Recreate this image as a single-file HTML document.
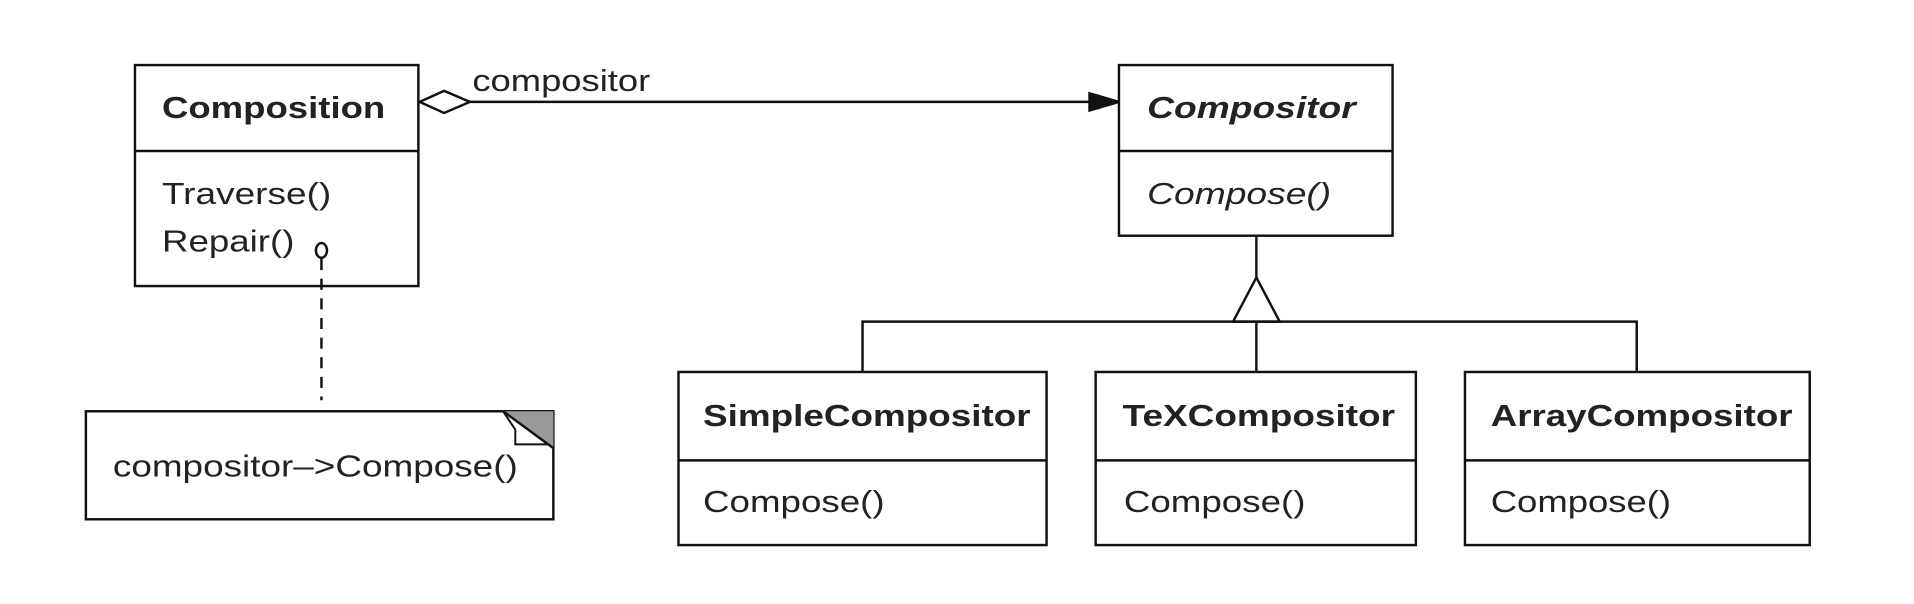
<!DOCTYPE html>
<html><head><meta charset="utf-8"><style>html,body{margin:0;padding:0;background:#fff}svg{display:block}</style></head>
<body>
<svg width="1914" height="604" viewBox="0 0 1560 492" preserveAspectRatio="none" xmlns="http://www.w3.org/2000/svg" font-family="Liberation Sans, Arial, sans-serif" fill="none" stroke="#111" stroke-width="2">
<!-- Composition -->
<rect x="110" y="53" width="231" height="180" fill="#fff"/>
<line x1="110" y1="123" x2="341" y2="123"/>
<!-- aggregation -->
<polygon points="342,83 362,74 383,83 362,92" fill="#fff"/>
<line x1="383" y1="83" x2="890" y2="83"/>
<polygon points="888,76 912,83 888,90" fill="#111"/>
<rect x="888" y="77" width="8" height="12" fill="#111" stroke="none"/>
<!-- note link -->
<ellipse cx="262" cy="204" rx="4.5" ry="6" fill="#fff"/>
<line x1="262" y1="211" x2="262" y2="326" stroke-dasharray="9,7"/>
<!-- note -->
<rect x="70" y="335" width="381" height="88" fill="#fff"/>
<polygon points="410,335 451,335 451,365" fill="#999" stroke="none"/>
<polyline points="410,335 420,350 420,362 447,362 451,365" stroke-width="1.6"/>
<line x1="410" y1="335" x2="451" y2="365"/>
<!-- Compositor -->
<rect x="912" y="53" width="223" height="139" fill="#fff"/>
<line x1="912" y1="123" x2="1135" y2="123"/>
<!-- inheritance -->
<line x1="1024" y1="192" x2="1024" y2="226"/>
<polygon points="1024,226 1043,262 1005,262" fill="#fff"/>
<polyline points="703,303 703,262 1334,262 1334,303"/>
<line x1="1024" y1="262" x2="1024" y2="303"/>
<!-- subclasses -->
<rect x="553" y="303" width="300" height="141"/>
<line x1="553" y1="375" x2="853" y2="375"/>
<rect x="893" y="303" width="261" height="141"/>
<line x1="893" y1="375" x2="1154" y2="375"/>
<rect x="1194" y="303" width="281" height="141"/>
<line x1="1194" y1="375" x2="1475" y2="375"/>
<g stroke="none" fill="#222" font-size="25">
<text x="132" y="96" font-weight="bold" textLength="182" lengthAdjust="spacingAndGlyphs">Composition</text>
<text x="132" y="166" textLength="138" lengthAdjust="spacingAndGlyphs">Traverse()</text>
<text x="132" y="205" textLength="108" lengthAdjust="spacingAndGlyphs">Repair()</text>
<text x="385" y="74" textLength="145" lengthAdjust="spacingAndGlyphs">compositor</text>
<text x="935" y="96" font-weight="bold" font-style="italic" textLength="170" lengthAdjust="spacingAndGlyphs">Compositor</text>
<text x="935" y="166" font-style="italic" textLength="150" lengthAdjust="spacingAndGlyphs">Compose()</text>
<text x="92" y="388" textLength="330" lengthAdjust="spacingAndGlyphs">compositor–&gt;Compose()</text>
<text x="573" y="347" font-weight="bold" textLength="267" lengthAdjust="spacingAndGlyphs">SimpleCompositor</text>
<text x="573" y="417" textLength="148" lengthAdjust="spacingAndGlyphs">Compose()</text>
<text x="915" y="347" font-weight="bold" textLength="222" lengthAdjust="spacingAndGlyphs">TeXCompositor</text>
<text x="916" y="417" textLength="148" lengthAdjust="spacingAndGlyphs">Compose()</text>
<text x="1215" y="347" font-weight="bold" textLength="246" lengthAdjust="spacingAndGlyphs">ArrayCompositor</text>
<text x="1215" y="417" textLength="147" lengthAdjust="spacingAndGlyphs">Compose()</text>
</g>
</svg>
</body></html>
